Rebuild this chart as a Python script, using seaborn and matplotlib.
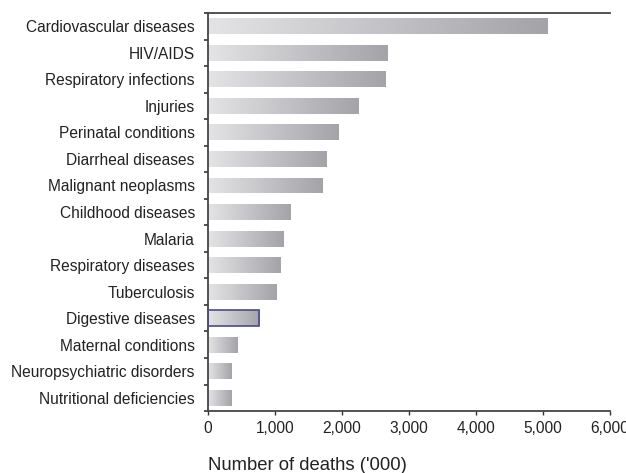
import numpy as np
import pandas as pd
import matplotlib
matplotlib.use("Agg")
import matplotlib.pyplot as plt
from matplotlib.colors import LinearSegmentedColormap
import seaborn as sns

causes = [
    "Cardiovascular diseases", "HIV/AIDS", "Respiratory infections", "Injuries",
    "Perinatal conditions", "Diarrheal diseases", "Malignant neoplasms",
    "Childhood diseases", "Malaria", "Respiratory diseases", "Tuberculosis",
    "Digestive diseases", "Maternal conditions", "Neuropsychiatric disorders",
    "Nutritional deficiencies",
]
deaths = [5075, 2680, 2650, 2245, 1950, 1770, 1710, 1230, 1120, 1080, 1030,
          770, 445, 355, 355]
x_ticks = [0, 1000, 2000, 3000, 4000, 5000, 6000]
x_label = "Number of deaths ('000)"
outlined = "Digestive diseases"

sns.set_theme(style="white")
plt.rcParams["font.family"] = ["Liberation Sans", "DejaVu Sans"]

df = pd.DataFrame({"cause": causes, "deaths": deaths})

fig = plt.figure(figsize=(6.26, 4.73), dpi=100)
ax = fig.add_axes([0.332, 0.131, 0.642, 0.8415])

sns.barplot(data=df, x="deaths", y="cause", orient="h", color="#c8c8cc",
            width=0.6, ax=ax, saturation=1)

# horizontal light-to-dark gradient fill inside each bar
cmap = LinearSegmentedColormap.from_list("bar", ["#e4e4e6", "#c4c4c8", "#a4a4a8"])
grad = np.linspace(0, 1, 256).reshape(1, -1)
for patch, cause in zip(ax.patches, df["cause"]):
    x0, y0 = patch.get_x(), patch.get_y()
    w, h = patch.get_width(), patch.get_height()
    im = ax.imshow(grad, extent=[x0, x0 + w, y0 + h, y0], cmap=cmap,
                   aspect="auto", interpolation="bilinear", zorder=2)
    im.set_clip_path(patch)
    patch.set_facecolor("none")
    patch.set_zorder(3)
    if cause == outlined:
        patch.set_edgecolor("#4a4a8e")
        patch.set_linewidth(1.2)
    else:
        patch.set_edgecolor("none")

n = len(causes)
ax.set_xlim(0, 6000)
ax.set_ylim(n - 0.5, -0.5)
ax.set_xticks(x_ticks)
ax.set_xticklabels([f"{v:,}" for v in x_ticks])
ax.set_yticks(range(n))
ax.set_yticklabels(causes)
ax.set_yticks(np.arange(-0.5, n, 1.0), minor=True)

ax.tick_params(axis="y", which="major", length=0, pad=9.4, labelsize=11.2,
               labelcolor="#222222")
ax.tick_params(axis="y", which="minor", length=3, width=1.2, color="#333333",
               direction="out", left=True)
ax.tick_params(axis="x", which="major", length=3, width=1.0, color="#333333",
               direction="out", bottom=True, pad=4, labelsize=11.2,
               labelcolor="#222222")

ax.set_xlabel(x_label, fontsize=13.3, color="#222222", labelpad=15.5, loc="left")
ax.set_ylabel("")

for side in ["left", "bottom", "top"]:
    ax.spines[side].set_visible(True)
    ax.spines[side].set_color("#444444")
    ax.spines[side].set_linewidth(1.3)
ax.spines["right"].set_visible(False)

fig.savefig("out.png", dpi=100)
